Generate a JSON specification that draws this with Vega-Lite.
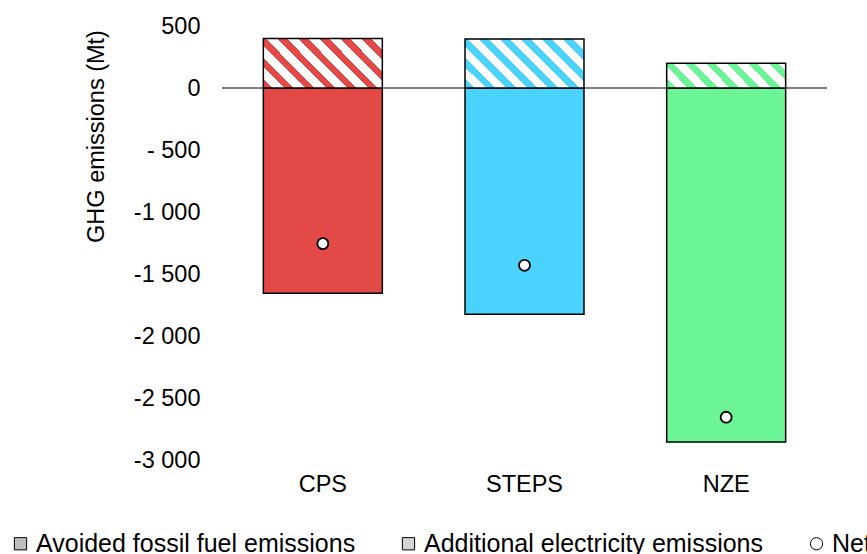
{
  "$schema": "https://vega.github.io/schema/vega-lite/v6.json",
  "width": 605,
  "height": 434,
  "autosize": {"type": "none"},
  "padding": {"left": 222, "top": 26, "right": 40, "bottom": 94},
  "background": "white",
  "datasets": {
    "emissions": [
      {"scenario": "CPS", "avoided": -1655, "additional": 400, "net": -1255},
      {"scenario": "STEPS", "avoided": -1825, "additional": 395, "net": -1430},
      {"scenario": "NZE", "avoided": -2855, "additional": 200, "net": -2655}
    ],
    "legend": [
      {"item": "Avoided fossil fuel emissions"},
      {"item": "Additional electricity emissions"},
      {"item": "Net"}
    ]
  },
  "data": {"name": "emissions"},
  "layer": [
    {
      "mark": {"type": "rule", "color": "#7F7F7F", "strokeWidth": 1.3},
      "encoding": {
        "y": {"datum": 0, "type": "quantitative", "scale": {"domain": [-3000, 500], "nice": false, "zero": false}, "title": "GHG emissions (Mt)"}
      }
    },
    {
      "mark": {"type": "bar", "stroke": "#000000", "strokeWidth": 1.5},
      "encoding": {
        "x": {"field": "scenario", "type": "nominal", "sort": ["CPS", "STEPS", "NZE"], "scale": {"paddingInner": 0.41, "paddingOuter": 0.205}, "title": null},
        "y": {"field": "avoided", "type": "quantitative", "scale": {"domain": [-3000, 500], "nice": false, "zero": false}, "title": "GHG emissions (Mt)",
          "axis": {"values": [500, 0, -500, -1000, -1500, -2000, -2500, -3000],
            "labelExpr": "datum.value == -500 ? '- 500' : (datum.value < 0 ? '-' : '') + replace(format(abs(datum.value), ','), ',', ' ')",
            "titleFontSize": 23.5, "titleFontWeight": "normal", "titleColor": "#000000", "titlePadding": 25,
            "titleAngle": -90, "titleAlign": "center", "titleBaseline": "bottom", "titleY": 110, "titleLimit": 0}},
        "color": {"field": "scenario", "type": "nominal", "scale": {"domain": ["CPS", "STEPS", "NZE"], "range": ["#E34A47", "#4BD3FF", "#6BF596"]}, "legend": null}
      }
    },
    {
      "transform": [{"filter": "datum.scenario == 'CPS'"}],
      "mark": {"type": "bar", "stroke": "#000000", "strokeWidth": 1.5,
        "color": {"gradient": "linear", "x1": 0, "y1": 1, "x2": 1.207, "y2": 0.503, "stops": [
          {"offset": 0, "color": "#E34A47"}, {"offset": 0.055, "color": "#E34A47"}, {"offset": 0.055, "color": "#FFFFFF"}, {"offset": 0.125, "color": "#FFFFFF"},
          {"offset": 0.125, "color": "#E34A47"}, {"offset": 0.18, "color": "#E34A47"}, {"offset": 0.18, "color": "#FFFFFF"}, {"offset": 0.25, "color": "#FFFFFF"},
          {"offset": 0.25, "color": "#E34A47"}, {"offset": 0.305, "color": "#E34A47"}, {"offset": 0.305, "color": "#FFFFFF"}, {"offset": 0.375, "color": "#FFFFFF"},
          {"offset": 0.375, "color": "#E34A47"}, {"offset": 0.43, "color": "#E34A47"}, {"offset": 0.43, "color": "#FFFFFF"}, {"offset": 0.5, "color": "#FFFFFF"},
          {"offset": 0.5, "color": "#E34A47"}, {"offset": 0.555, "color": "#E34A47"}, {"offset": 0.555, "color": "#FFFFFF"}, {"offset": 0.625, "color": "#FFFFFF"},
          {"offset": 0.625, "color": "#E34A47"}, {"offset": 0.68, "color": "#E34A47"}, {"offset": 0.68, "color": "#FFFFFF"}, {"offset": 0.75, "color": "#FFFFFF"},
          {"offset": 0.75, "color": "#E34A47"}, {"offset": 0.805, "color": "#E34A47"}, {"offset": 0.805, "color": "#FFFFFF"}, {"offset": 0.875, "color": "#FFFFFF"},
          {"offset": 0.875, "color": "#E34A47"}, {"offset": 0.93, "color": "#E34A47"}, {"offset": 0.93, "color": "#FFFFFF"}, {"offset": 1, "color": "#FFFFFF"}
        ]}},
      "encoding": {
        "x": {"field": "scenario", "type": "nominal", "sort": ["CPS", "STEPS", "NZE"], "scale": {"paddingInner": 0.41, "paddingOuter": 0.205}, "title": null},
        "y": {"field": "additional", "type": "quantitative", "scale": {"domain": [-3000, 500], "nice": false, "zero": false}, "title": "GHG emissions (Mt)"}
      }
    },
    {
      "transform": [{"filter": "datum.scenario == 'STEPS'"}],
      "mark": {"type": "bar", "stroke": "#000000", "strokeWidth": 1.5,
        "color": {"gradient": "linear", "x1": 0, "y1": 1, "x2": 1.207, "y2": 0.503, "stops": [
          {"offset": 0, "color": "#4BD3FF"}, {"offset": 0.055, "color": "#4BD3FF"}, {"offset": 0.055, "color": "#FFFFFF"}, {"offset": 0.125, "color": "#FFFFFF"},
          {"offset": 0.125, "color": "#4BD3FF"}, {"offset": 0.18, "color": "#4BD3FF"}, {"offset": 0.18, "color": "#FFFFFF"}, {"offset": 0.25, "color": "#FFFFFF"},
          {"offset": 0.25, "color": "#4BD3FF"}, {"offset": 0.305, "color": "#4BD3FF"}, {"offset": 0.305, "color": "#FFFFFF"}, {"offset": 0.375, "color": "#FFFFFF"},
          {"offset": 0.375, "color": "#4BD3FF"}, {"offset": 0.43, "color": "#4BD3FF"}, {"offset": 0.43, "color": "#FFFFFF"}, {"offset": 0.5, "color": "#FFFFFF"},
          {"offset": 0.5, "color": "#4BD3FF"}, {"offset": 0.555, "color": "#4BD3FF"}, {"offset": 0.555, "color": "#FFFFFF"}, {"offset": 0.625, "color": "#FFFFFF"},
          {"offset": 0.625, "color": "#4BD3FF"}, {"offset": 0.68, "color": "#4BD3FF"}, {"offset": 0.68, "color": "#FFFFFF"}, {"offset": 0.75, "color": "#FFFFFF"},
          {"offset": 0.75, "color": "#4BD3FF"}, {"offset": 0.805, "color": "#4BD3FF"}, {"offset": 0.805, "color": "#FFFFFF"}, {"offset": 0.875, "color": "#FFFFFF"},
          {"offset": 0.875, "color": "#4BD3FF"}, {"offset": 0.93, "color": "#4BD3FF"}, {"offset": 0.93, "color": "#FFFFFF"}, {"offset": 1, "color": "#FFFFFF"}
        ]}},
      "encoding": {
        "x": {"field": "scenario", "type": "nominal", "sort": ["CPS", "STEPS", "NZE"], "scale": {"paddingInner": 0.41, "paddingOuter": 0.205}, "title": null},
        "y": {"field": "additional", "type": "quantitative", "scale": {"domain": [-3000, 500], "nice": false, "zero": false}, "title": "GHG emissions (Mt)"}
      }
    },
    {
      "transform": [{"filter": "datum.scenario == 'NZE'"}],
      "mark": {"type": "bar", "stroke": "#000000", "strokeWidth": 1.5,
        "color": {"gradient": "linear", "x1": 0, "y1": 1, "x2": 1.155, "y2": 0.767, "stops": [
          {"offset": 0, "color": "#6BF596"}, {"offset": 0.065, "color": "#6BF596"}, {"offset": 0.065, "color": "#FFFFFF"}, {"offset": 0.147, "color": "#FFFFFF"},
          {"offset": 0.147, "color": "#6BF596"}, {"offset": 0.212, "color": "#6BF596"}, {"offset": 0.212, "color": "#FFFFFF"}, {"offset": 0.294, "color": "#FFFFFF"},
          {"offset": 0.294, "color": "#6BF596"}, {"offset": 0.359, "color": "#6BF596"}, {"offset": 0.359, "color": "#FFFFFF"}, {"offset": 0.441, "color": "#FFFFFF"},
          {"offset": 0.441, "color": "#6BF596"}, {"offset": 0.506, "color": "#6BF596"}, {"offset": 0.506, "color": "#FFFFFF"}, {"offset": 0.588, "color": "#FFFFFF"},
          {"offset": 0.588, "color": "#6BF596"}, {"offset": 0.653, "color": "#6BF596"}, {"offset": 0.653, "color": "#FFFFFF"}, {"offset": 0.735, "color": "#FFFFFF"},
          {"offset": 0.735, "color": "#6BF596"}, {"offset": 0.8, "color": "#6BF596"}, {"offset": 0.8, "color": "#FFFFFF"}, {"offset": 0.882, "color": "#FFFFFF"},
          {"offset": 0.882, "color": "#6BF596"}, {"offset": 0.947, "color": "#6BF596"}, {"offset": 0.947, "color": "#FFFFFF"}, {"offset": 1, "color": "#FFFFFF"}
        ]}},
      "encoding": {
        "x": {"field": "scenario", "type": "nominal", "sort": ["CPS", "STEPS", "NZE"], "scale": {"paddingInner": 0.41, "paddingOuter": 0.205}, "title": null},
        "y": {"field": "additional", "type": "quantitative", "scale": {"domain": [-3000, 500], "nice": false, "zero": false}, "title": "GHG emissions (Mt)"}
      }
    },
    {
      "mark": {"type": "point", "filled": true, "fill": "#FFFFFF", "stroke": "#000000", "strokeWidth": 1.8, "size": 120, "opacity": 1},
      "encoding": {
        "x": {"field": "scenario", "type": "nominal", "sort": ["CPS", "STEPS", "NZE"], "scale": {"paddingInner": 0.41, "paddingOuter": 0.205}, "title": null},
        "y": {"field": "net", "type": "quantitative", "scale": {"domain": [-3000, 500], "nice": false, "zero": false}, "title": "GHG emissions (Mt)"}
      }
    },
    {
      "data": {"name": "legend"},
      "mark": {"type": "point", "filled": true, "strokeWidth": 1, "opacity": 1},
      "encoding": {
        "y": {"field": "none", "type": "quantitative", "scale": {"domain": [-3000, 500], "nice": false, "zero": false}, "title": "GHG emissions (Mt)"},
        "fill": {"field": "item", "type": "nominal", "title": null,
          "scale": {"domain": ["Avoided fossil fuel emissions", "Additional electricity emissions", "Net"], "range": ["#BFBFBF", "#D4D4D4", "#FFFFFF"]},
          "legend": {"orient": "none", "legendX": -214, "legendY": 505, "direction": "horizontal", "labelLimit": 0}},
        "stroke": {"field": "item", "type": "nominal", "title": null,
          "scale": {"domain": ["Avoided fossil fuel emissions", "Additional electricity emissions", "Net"], "range": ["#000000", "#000000", "#000000"]},
          "legend": {"orient": "none", "legendX": -214, "legendY": 505, "direction": "horizontal", "labelLimit": 0}},
        "shape": {"field": "item", "type": "nominal", "title": null,
          "scale": {"domain": ["Avoided fossil fuel emissions", "Additional electricity emissions", "Net"], "range": ["square", "square", "circle"]},
          "legend": {"orient": "none", "legendX": -214, "legendY": 505, "direction": "horizontal", "labelLimit": 0}}
      }
    }
  ],
  "config": {
    "font": "Liberation Sans",
    "view": {"stroke": null},
    "axisY": {"domain": false, "ticks": false, "labelFontSize": 23.5, "labelColor": "#000000", "labelPadding": 22,
      "gridColor": "#D9D9D9", "gridWidth": 1.5, "titleFontSize": 23.5, "titleFontWeight": "normal", "titleColor": "#000000",
      "titlePadding": 25, "titleLimit": 0},
    "axisX": {"domain": false, "ticks": false, "grid": false, "labelFontSize": 23.5, "labelColor": "#000000", "labelPadding": 12, "labelAngle": 0},
    "legend": {"labelFontSize": 25, "labelColor": "#000000", "symbolSize": 150, "columnPadding": 40, "labelOffset": 3, "labelLimit": 0,
      "symbolStrokeWidth": 1, "padding": 0}
  }
}
